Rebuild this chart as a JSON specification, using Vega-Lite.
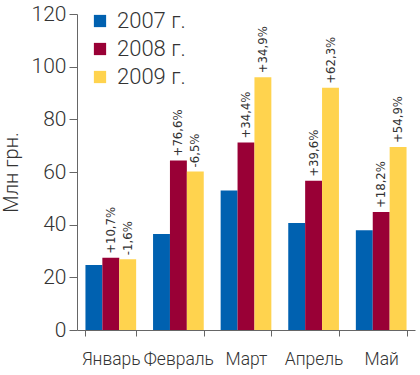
{
  "$schema": "https://vega.github.io/schema/vega-lite/v6.json",
  "width": 338,
  "height": 316,
  "autosize": {"type": "none"},
  "padding": {"left": 77, "top": 14, "right": 5, "bottom": 45},
  "background": "white",
  "config": {
    "view": {"stroke": null},
    "font": "Roboto, sans-serif",
    "axis": {"labelColor": "#333", "titleColor": "#333", "domainColor": "#666", "tickColor": "#666", "grid": false}
  },
  "data": {
    "values": [
      {"month": "Январь", "year": "2007 г.", "value": 24.7, "label": ""},
      {"month": "Январь", "year": "2008 г.", "value": 27.4, "label": "+10,7%"},
      {"month": "Январь", "year": "2009 г.", "value": 26.9, "label": "-1,6%"},
      {"month": "Февраль", "year": "2007 г.", "value": 36.5, "label": ""},
      {"month": "Февраль", "year": "2008 г.", "value": 64.4, "label": "+76,6%"},
      {"month": "Февраль", "year": "2009 г.", "value": 60.2, "label": "-6,5%"},
      {"month": "Март", "year": "2007 г.", "value": 53.0, "label": ""},
      {"month": "Март", "year": "2008 г.", "value": 71.2, "label": "+34,4%"},
      {"month": "Март", "year": "2009 г.", "value": 96.0, "label": "+34,9%"},
      {"month": "Апрель", "year": "2007 г.", "value": 40.6, "label": ""},
      {"month": "Апрель", "year": "2008 г.", "value": 56.7, "label": "+39,6%"},
      {"month": "Апрель", "year": "2009 г.", "value": 92.0, "label": "+62,3%"},
      {"month": "Май", "year": "2007 г.", "value": 37.9, "label": ""},
      {"month": "Май", "year": "2008 г.", "value": 44.8, "label": "+18,2%"},
      {"month": "Май", "year": "2009 г.", "value": 69.5, "label": "+54,9%"}
    ]
  },
  "encoding": {
    "x": {
      "field": "month", "type": "nominal", "sort": null,
      "scale": {"paddingInner": 0.25, "paddingOuter": 0.125},
      "axis": {"title": null, "labelAngle": 0, "labelFontSize": 17.5, "labelFontWeight": 300, "labelOverlap": false, "tickBand": "extent", "tickSize": 6, "labelPadding": 14}
    },
    "xOffset": {"field": "year", "type": "nominal"},
    "y": {
      "field": "value", "type": "quantitative",
      "scale": {"domain": [0, 120]},
      "axis": {"title": "Млн грн.", "values": [0, 20, 40, 60, 80, 100, 120], "labelFontSize": 21, "labelFontWeight": 300, "titleFontSize": 20, "titleFontWeight": 300, "tickSize": 8, "labelPadding": 3, "titlePadding": 10}
    }
  },
  "layer": [
    {
      "mark": {"type": "bar"},
      "encoding": {
        "color": {
          "field": "year", "type": "nominal",
          "scale": {"range": ["#0061b0", "#990036", "#ffd34e"]},
          "legend": {"title": null, "orient": "none", "legendX": 12, "legendY": -4, "symbolType": "square", "symbolSize": 150, "labelFontSize": 22, "labelFontWeight": 300, "labelOffset": 6, "rowPadding": 6, "symbolOpacity": 1, "labelColor": "#333", "symbolStrokeWidth": 0}
        }
      }
    },
    {
      "mark": {"type": "text", "angle": 270, "align": "left", "baseline": "middle", "dx": 4, "fontSize": 13, "font": "'DejaVu Sans Condensed', Roboto, sans-serif", "color": "#333"},
      "encoding": {"text": {"field": "label"}}
    }
  ]
}
